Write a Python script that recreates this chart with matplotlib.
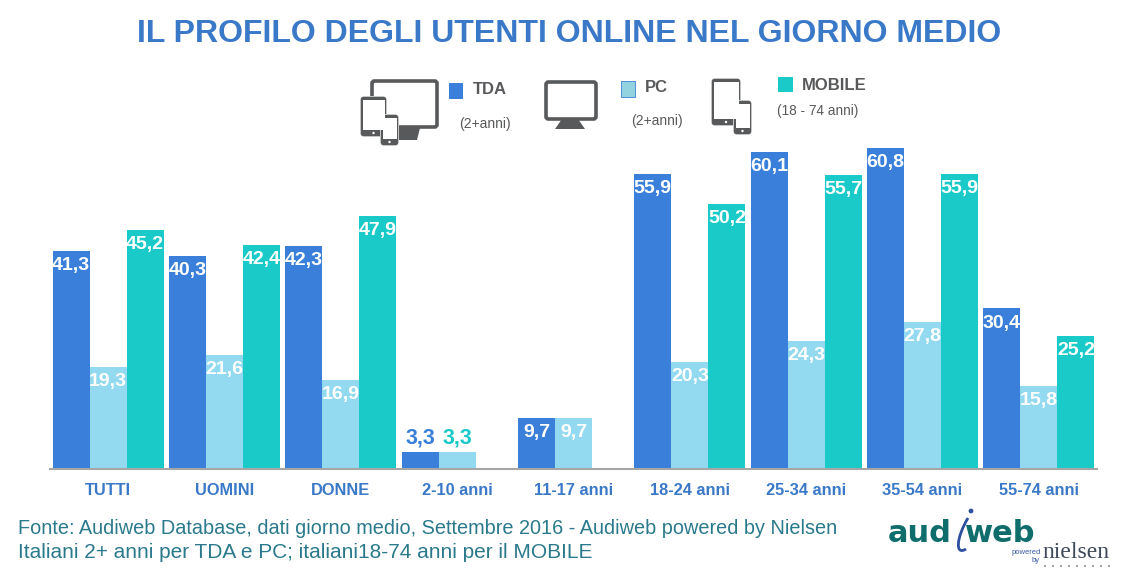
import matplotlib
matplotlib.use('Agg')
import numpy as np
import matplotlib.pyplot as plt
from matplotlib.patches import FancyBboxPatch, Rectangle, Polygon, PathPatch, Circle
from matplotlib.path import Path

plt.rcParams['font.family'] = ['Liberation Sans', 'DejaVu Sans']

categories = ['TUTTI', 'UOMINI', 'DONNE', '2-10 anni', '11-17 anni',
              '18-24 anni', '25-34 anni', '35-54 anni', '55-74 anni']
tda = [41.3, 40.3, 42.3, 3.3, 9.7, 55.9, 60.1, 60.8, 30.4]
pc = [19.3, 21.6, 16.9, 3.3, 9.7, 20.3, 24.3, 27.8, 15.8]
mobile = [45.2, 42.4, 47.9, None, None, 50.2, 55.7, 55.9, 25.2]

C_TDA = '#3A7FD9'
C_PC = '#93DAF0'
C_MOB = '#1ACAC8'
C_TITLE = '#3A78C8'
C_ICON = '#58595B'
C_TEXT = '#2A7A8C'
C_LOGO = '#0F6E6B'
C_LOGO2 = '#2E4FA0'

W, H = 1148, 582
fig = plt.figure(figsize=(W / 100, H / 100), dpi=100)

# chart area, baseline at y=469
ax = fig.add_axes([50 / W, (H - 469) / H, 1047 / W, 330 / H])
bar_w = 0.318
x = np.arange(len(categories))


def fmt(v):
    return f'{v:.1f}'.replace('.', ',')


for off, vals, col in [(-bar_w, tda, C_TDA), (0, pc, C_PC), (bar_w, mobile, C_MOB)]:
    for xi, v in zip(x, vals):
        if v is None:
            continue
        ax.bar(xi + off, v, bar_w, color=col, linewidth=0)
        if v < 5:
            # small bars get the label above, coloured like the series next to it
            lab_col = C_TDA if off < 0 else C_MOB
            ax.annotate(fmt(v), (xi + off, v), xytext=(0, 10), textcoords='offset points',
                        ha='center', va='center', color=lab_col, fontsize=15.5, fontweight='bold')
        else:
            ax.annotate(fmt(v), (xi + off, v), xytext=(0, -10.5), textcoords='offset points',
                        ha='center', va='center', color='white', fontsize=14, fontweight='bold')

ax.set_xlim(-0.5, 8.5)
ax.set_ylim(0, 330 / 5.28)
ax.set_xticks(x)
ax.set_xticklabels(categories, color=C_TITLE, fontsize=11.8, fontweight='bold')
ax.tick_params(axis='x', length=0, pad=10)
ax.set_yticks([])
for s in ['top', 'left', 'right']:
    ax.spines[s].set_visible(False)
ax.spines['bottom'].set_color('#A6A6A6')
ax.spines['bottom'].set_linewidth(1.5)
ax.patch.set_alpha(0)

# overlay in pixel coordinates for title, legend, icons, footer, logo
ov = fig.add_axes([0, 0, 1, 1])
ov.set_xlim(0, W)
ov.set_ylim(H, 0)
ov.axis('off')
ov.patch.set_alpha(0)

ov.text(569, 34, 'IL PROFILO DEGLI UTENTI ONLINE NEL GIORNO MEDIO', ha='center', va='center',
        color=C_TITLE, fontsize=23, fontweight='bold')


def screen(x0, y0, w, h, lw=2.6):
    ov.add_patch(FancyBboxPatch((x0, y0), w, h, boxstyle='round,pad=0,rounding_size=2.5',
                                fc='white', ec=C_ICON, lw=lw, zorder=3))


def tablet(x0, y0, w, h):
    ov.add_patch(FancyBboxPatch((x0 - 1, y0 - 1), w + 2, h + 2, boxstyle='round,pad=0,rounding_size=2',
                                fc='white', ec='none', zorder=4))
    ov.add_patch(FancyBboxPatch((x0, y0), w, h, boxstyle='round,pad=0,rounding_size=2.5',
                                fc=C_ICON, ec=C_ICON, lw=0.5, zorder=4))
    ov.add_patch(Rectangle((x0 + 1.5, y0 + 3), w - 3, h - 9, fc='white', ec='none', zorder=5))
    ov.add_patch(Circle((x0 + w / 2, y0 + h - 3), 1.2, fc='white', ec='none', zorder=5))


# TDA icon
screen(372, 81, 65, 46)
ov.add_patch(Polygon([(394, 128), (420, 128), (417, 140), (387, 140)], fc=C_ICON, ec='none', zorder=2))
tablet(361, 97, 25, 39)
tablet(381, 115, 17, 30)

# PC icon
screen(546, 82, 50, 37)
ov.add_patch(Polygon([(562, 119), (578, 119), (585, 129), (555, 129)], fc=C_ICON, ec='none', zorder=2))

# MOBILE icon
tablet(712, 79, 28, 46)
tablet(734, 101, 17, 33)

# legend squares and labels
ov.add_patch(Rectangle((449, 83), 14, 16, fc=C_TDA, ec='none'))
ov.add_patch(Rectangle((621, 81), 14, 16, fc='#93D3E0', ec=C_TDA, lw=0.6))
ov.add_patch(Rectangle((778, 77), 15, 15, fc=C_MOB, ec='none'))
ov.text(473, 90, 'TDA', color=C_ICON, fontsize=12, fontweight='bold', va='center')
ov.text(645, 88, 'PC', color=C_ICON, fontsize=12, fontweight='bold', va='center')
ov.text(802, 86, 'MOBILE', color=C_ICON, fontsize=12, fontweight='bold', va='center')
ov.text(459, 124, '(2+anni)', color=C_ICON, fontsize=10, va='center')
ov.text(631, 121, '(2+anni)', color=C_ICON, fontsize=10, va='center')
ov.text(777, 111, '(18 - 74 anni)', color=C_ICON, fontsize=9.8, va='center')

# footer, the second line runs a bit wider in the source
ov.text(18, 528, 'Fonte: Audiweb Database, dati giorno medio, Settembre 2016 - Audiweb powered by Nielsen',
        color=C_TEXT, fontsize=14.3, va='center')
ov.text(18, 553, 'Italiani 2+ anni per TDA e PC; italiani18-74 anni per il MOBILE',
        color=C_TEXT, fontsize=15, va='center')

# logo
ov.text(888, 533, 'aud', color=C_LOGO, fontsize=22, fontweight='bold', va='center', ha='left',
        family='DejaVu Sans')
ov.text(965, 533, 'web', color=C_LOGO, fontsize=22, fontweight='bold', va='center', ha='left',
        family='DejaVu Sans')
swoosh = [(968, 518), (956, 538), (955, 556), (966, 549)]
ov.add_patch(PathPatch(Path(swoosh, [Path.MOVETO, Path.CURVE4, Path.CURVE4, Path.CURVE4]),
                       fc='none', ec=C_LOGO2, lw=2))
ov.add_patch(Circle((971, 511), 2.4, fc=C_LOGO2, ec='none'))
ov.text(1012, 552, 'powered', color='#3B5AA8', fontsize=5.5, ha='left', va='center')
ov.text(1032, 561, 'by', color='#3B5AA8', fontsize=5.5, ha='left', va='center')
ov.text(1042, 553, 'nielsen', color='#3E4A5A', fontsize=17, family='Liberation Serif', ha='left', va='center')
for i in range(9):
    ov.add_patch(Circle((1045 + i * 8, 566), 0.8, fc='#3E4A5A', ec='none'))

fig.savefig('out.png', dpi=100, facecolor='white')
